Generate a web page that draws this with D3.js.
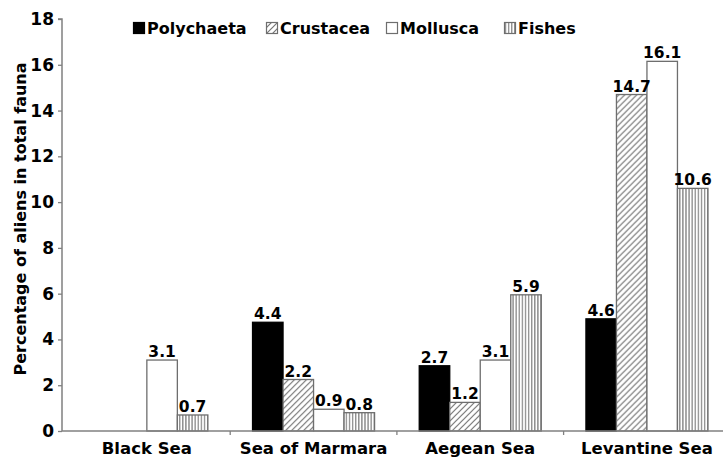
<!DOCTYPE html>
<html>
<head>
<meta charset="utf-8">
<script src="https://cdn.jsdelivr.net/npm/d3@7"></script>
<style>
  body { margin: 0; background: #fff; }
  text { font-family: "DejaVu Sans", sans-serif; font-weight: bold; fill: #000; }
</style>
</head>
<body>
<div id="chart"></div>
<script>
// Data.
var categories = ['Black Sea', 'Sea of Marmara', 'Aegean Sea', 'Levantine Sea'];
var seriesNames = ['Polychaeta', 'Crustacea', 'Mollusca', 'Fishes'];
// bar heights as drawn (null = no bar)
var polychaeta = [null, 4.75, 2.85, 4.9];
var crustacea  = [null, 2.25, 1.25, 14.7];
var mollusca   = [3.1, 0.95, 3.1, 16.15];
var fishes     = [0.7, 0.8, 5.95, 10.6];
// value labels as printed
var polychaetaLabels = [null, '4.4', '2.7', '4.6'];
var crustaceaLabels  = [null, '2.2', '1.2', '14.7'];
var molluscaLabels   = ['3.1', '0.9', '3.1', '16.1'];
var fishesLabels     = ['0.7', '0.8', '5.9', '10.6'];
var yTicks = [0, 2, 4, 6, 8, 10, 12, 14, 16, 18];

var series = [
    { name: seriesNames[0], values: polychaeta, labels: polychaetaLabels, fill: '#000', stroke: '#000' },
    { name: seriesNames[1], values: crustacea, labels: crustaceaLabels, fill: 'url(#hatch)', stroke: '#6e6e6e' },
    { name: seriesNames[2], values: mollusca, labels: molluscaLabels, fill: '#fff', stroke: '#6e6e6e' },
    { name: seriesNames[3], values: fishes, labels: fishesLabels, fill: 'url(#vlines)', stroke: '#6e6e6e' }
];

var width = 723, height = 457;
var axisX = 62, axisY = 431;

var svg = d3.select('#chart').append('svg')
    .attr('width', width)
    .attr('height', height);

// Patterns for the hatched bars.
var defs = svg.append('defs');
var hatch = defs.append('pattern')
    .attr('id', 'hatch')
    .attr('patternUnits', 'userSpaceOnUse')
    .attr('width', 6).attr('height', 6);
hatch.append('rect').attr('width', 6).attr('height', 6).attr('fill', '#fff');
hatch.append('path')
    .attr('d', 'M-1,7 L7,-1 M-4,4 L4,-4 M2,10 L10,2')
    .attr('stroke', '#757575').attr('stroke-width', 1.2);

var vlines = defs.append('pattern')
    .attr('id', 'vlines')
    .attr('patternUnits', 'userSpaceOnUse')
    .attr('width', 3.1).attr('height', 10);
vlines.append('rect').attr('width', 3.1).attr('height', 10).attr('fill', '#fff');
vlines.append('line')
    .attr('x1', 1.5).attr('x2', 1.5).attr('y1', 0).attr('y2', 10)
    .attr('stroke', '#707070').attr('stroke-width', 1.1);

// Scales.
var x = d3.scaleBand()
    .domain(categories)
    .range([63.5, 63.5 + 4 * 166.7])
    .padding(0);

var xInner = d3.scaleBand()
    .domain(seriesNames)
    .range([x.bandwidth() * 0.134, x.bandwidth() * 0.866])
    .padding(0);

var y = d3.scaleLinear()
    .domain([0, 18])
    .range([axisY, 19]);

// Bars.
var groups = svg.selectAll('.cat')
    .data(categories)
    .enter()
    .append('g')
    .attr('class', 'cat')
    .attr('transform', d => 'translate(' + x(d) + ',0)');

groups.each(function(cat, i) {
    var g = d3.select(this);
    var items = series.filter(s => s.values[i] != null).map(s => ({ s: s, v: s.values[i], label: s.labels[i] }));

    g.selectAll('rect')
        .data(items)
        .enter()
        .append('rect')
        .attr('x', d => xInner(d.s.name))
        .attr('y', d => y(d.v))
        .attr('width', xInner.bandwidth())
        .attr('height', d => y(0) - y(d.v))
        .attr('fill', d => d.s.fill)
        .attr('stroke', d => d.s.stroke)
        .attr('stroke-width', 1.3);

    g.selectAll('text.val')
        .data(items)
        .enter()
        .append('text')
        .attr('class', 'val')
        .attr('x', d => xInner(d.s.name) + xInner.bandwidth() / 2)
        .attr('y', d => y(d.v) - 3)
        .attr('text-anchor', 'middle')
        .style('font-size', '15.5px')
        .text(d => d.label);
});

// Y axis.
var yAxis = svg.append('g')
    .attr('transform', 'translate(' + axisX + ',0)')
    .call(d3.axisLeft(y).tickValues(yTicks).tickSize(4).tickPadding(4));
yAxis.select('.domain').attr('stroke', '#808080').attr('stroke-width', 1.5).attr('d', 'M-4,' + y(18) + 'H0V' + axisY);
yAxis.selectAll('.tick line').attr('stroke', '#808080').attr('stroke-width', 1.3);
yAxis.selectAll('.tick text')
    .style('font-family', '"DejaVu Sans", sans-serif')
    .style('font-weight', 'bold')
    .style('font-size', '17px')
    .attr('fill', '#000');

// X axis.
var xAxis = svg.append('g')
    .attr('transform', 'translate(0,' + axisY + ')');
xAxis.append('line')
    .attr('x1', axisX).attr('x2', width)
    .attr('stroke', '#808080').attr('stroke-width', 1.5);
xAxis.selectAll('line.tk')
    .data(categories.slice(1))
    .enter()
    .append('line')
    .attr('class', 'tk')
    .attr('x1', d => x(d)).attr('x2', d => x(d))
    .attr('y1', 0).attr('y2', 4)
    .attr('stroke', '#808080').attr('stroke-width', 1.3);
xAxis.selectAll('text')
    .data(categories)
    .enter()
    .append('text')
    .attr('x', d => x(d) + x.bandwidth() / 2)
    .attr('y', 23)
    .attr('text-anchor', 'middle')
    .style('font-size', '16.5px')
    .text(d => d);

// Y axis title.
svg.append('text')
    .attr('transform', 'translate(26,219) rotate(-90)')
    .attr('text-anchor', 'middle')
    .style('font-size', '16px')
    .text('Percentage of aliens in total fauna');

// Legend.
var legendX = [133, 266, 386, 504];
var legend = svg.selectAll('.legend')
    .data(series)
    .enter()
    .append('g')
    .attr('class', 'legend')
    .attr('transform', (d, i) => 'translate(' + legendX[i] + ',22)');
legend.append('rect')
    .attr('x', 0.5).attr('y', 0.5)
    .attr('width', 11).attr('height', 11)
    .attr('fill', d => d.fill)
    .attr('stroke', d => d.stroke)
    .attr('stroke-width', 1.2);
legend.append('text')
    .attr('x', 14)
    .attr('y', 12)
    .style('font-size', '16px')
    .text(d => d.name);
</script>
</body>
</html>
